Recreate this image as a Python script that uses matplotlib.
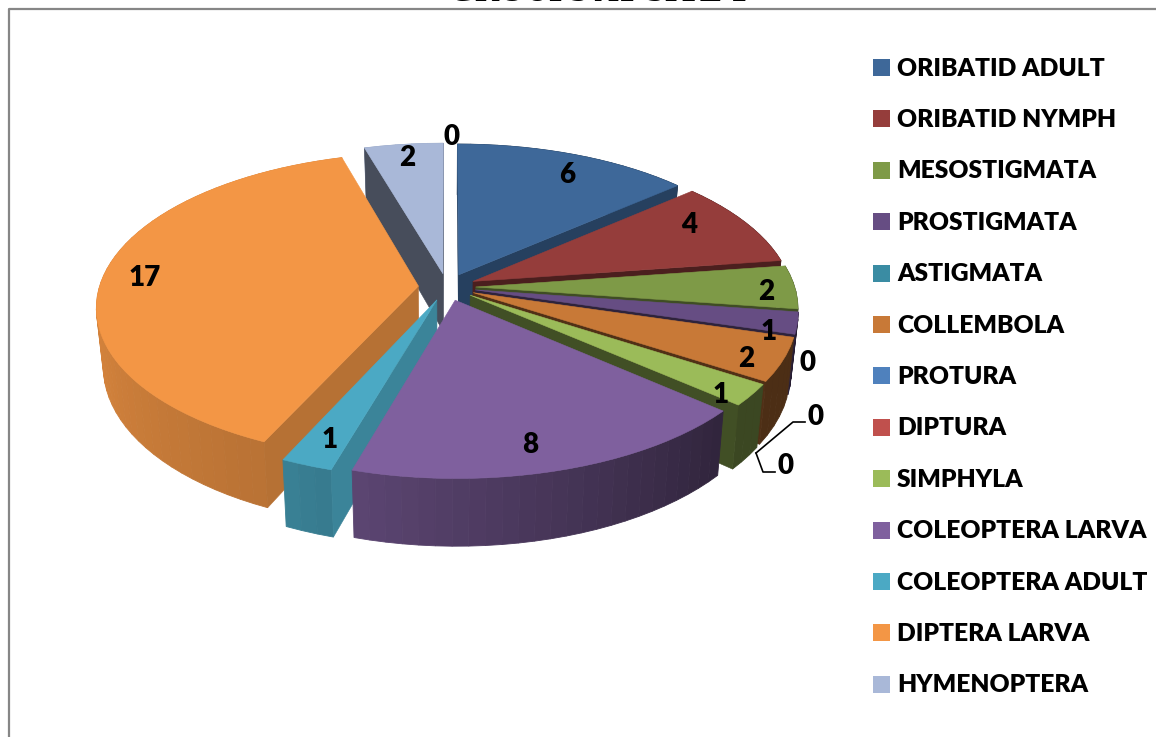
import matplotlib
matplotlib.use('Agg')
import matplotlib.pyplot as plt
import numpy as np
from matplotlib.colors import to_rgb

names = ['ORIBATID ADULT', 'ORIBATID NYMPH', 'MESOSTIGMATA', 'PROSTIGMATA', 'ASTIGMATA',
         'COLLEMBOLA', 'PROTURA', 'DIPTURA', 'SIMPHYLA', 'COLEOPTERA LARVA',
         'COLEOPTERA ADULT', 'DIPTERA LARVA', 'HYMENOPTERA']
# last value has a data label but no legend entry in the original
values = [6, 4, 2, 1, 0, 2, 0, 0, 1, 8, 1, 17, 2, 0]
colors = ['#3E6899', '#953D3B', '#7E9A47', '#664D83', '#3A8CA3', '#C87937', '#4F81BD',
          '#C0504D', '#9BBB59', '#7F609E', '#4BA9C4', '#F39645', '#A9B8D8', '#2C4D75']
face_shade = [0.62, 0.5, 0.5, 0.45, 0.5, 0.4, 0.5, 0.5, 0.42, 0.5, 0.78, 0.75, 0.42, 0.5]

# pixel positions of the data labels
label_xy = [(567, 175), (689, 225), (766, 292), (769, 332), (807, 363), (746, 359), (816, 417),
            (786, 466), (721, 395), (530, 445), (330, 440), (145, 278), (407, 158), (452, 137)]

# projection of the tilted pie, in pixels
cx, cy = 447, 287
rx, ry = 319, 151
persp = 0.132
depth = 58
explode = 0.09


def project(u, v, z=0.0):
    w = 1 / (1 + persp * v)
    return cx + rx * u * w * (1 - 0.02 * z), cy - ry * v * w + depth * w * z


def side_shade(theta):
    return np.interp(theta, [0, 100, 131, 196, 204, 270, 360],
                     [0.5, 0.38, 0.38, 0.72, 0.76, 0.9, 0.9])


def shaded(color, f):
    return tuple(c * f for c in to_rgb(color))


fig = plt.figure(figsize=(11.56, 7.37), dpi=100)
ax = fig.add_axes([0, 0, 1, 1])
ax.set_xlim(0, 1156)
ax.set_ylim(737, 0)
ax.axis('off')

# chart frame, cut by the picture edge
ax.plot([9, 9, 1156], [737, 9, 9], color='#868686', lw=1.6)
ax.text(598, -8, 'GROUPS AT SITE 1', ha='center', va='center', fontsize=24,
        fontweight='bold', family='Liberation Serif', clip_on=False)

total = float(sum(values))
edges = np.cumsum([0] + values) / total * 360
order = np.argsort([-np.cos(np.radians((edges[i] + edges[i + 1]) / 2)) for i in range(len(values))])

for i in order:
    t1, t2 = edges[i], edges[i + 1]
    if t2 <= t1:
        continue
    mid = np.radians((t1 + t2) / 2)
    ox, oy = explode * np.sin(mid), explode * np.cos(mid)
    th = np.linspace(t1, t2, max(int((t2 - t1) / 2.5), 4))
    us = ox + np.sin(np.radians(th))
    vs = oy + np.cos(np.radians(th))

    # outer wall, back to front, in small strips to get the gradient
    strips = np.argsort(-vs[:-1])
    for j in strips:
        a = project(us[j], vs[j])
        b = project(us[j + 1], vs[j + 1])
        c = project(us[j + 1], vs[j + 1], 1)
        d = project(us[j], vs[j], 1)
        col = shaded(colors[i], side_shade((th[j] + th[j + 1]) / 2))
        ax.fill([a[0], b[0], c[0], d[0]], [a[1], b[1], c[1], d[1]], color=col, lw=0.6)

    # top face as polygon
    top = [project(ox, oy)] + [project(u, v) for u, v in zip(us, vs)]
    top = np.array(top)
    inner = top.mean(axis=0)

    # cut faces, only those turned to the viewer
    for k, n in ((0, 1), (-1, -1)):
        p0 = top[0]
        p1 = top[n]
        e = p1 - p0
        side_top = e[0] * (inner[1] - p0[1]) - e[1] * (inner[0] - p0[0])
        side_down = e[0]
        if side_top * side_down < 0:
            q0 = project(ox, oy, 1)
            q1 = project(us[k], vs[k], 1)
            ax.fill([p0[0], p1[0], q1[0], q0[0]], [p0[1], p1[1], q1[1], q0[1]],
                    color=shaded(colors[i], face_shade[i]), lw=0.4)

    ax.fill(top[:, 0], top[:, 1], color=colors[i], lw=0.4)

for v, (x, y) in zip(values, label_xy):
    ax.text(x, y, '%d' % v, ha='center', va='center', fontsize=20, fontweight='heavy',
            family='Lato', color='black')

# leader lines for the two zero labels
ax.plot([756, 793, 805], [453, 422, 422], color='black', lw=1.2)
ax.plot([756, 763, 775], [453, 472, 472], color='black', lw=1.2)

# legend
for i, name in enumerate(names):
    y = 67.5 + 51.4 * i
    ax.fill([873, 890, 890, 873], [y - 8.5, y - 8.5, y + 8.5, y + 8.5], color=colors[i], lw=0)
    ax.text(897, y + 1, name, ha='left', va='center', fontsize=17.7, fontweight='heavy',
            family='Lato', color='black')

fig.savefig('out.png', dpi=100)
